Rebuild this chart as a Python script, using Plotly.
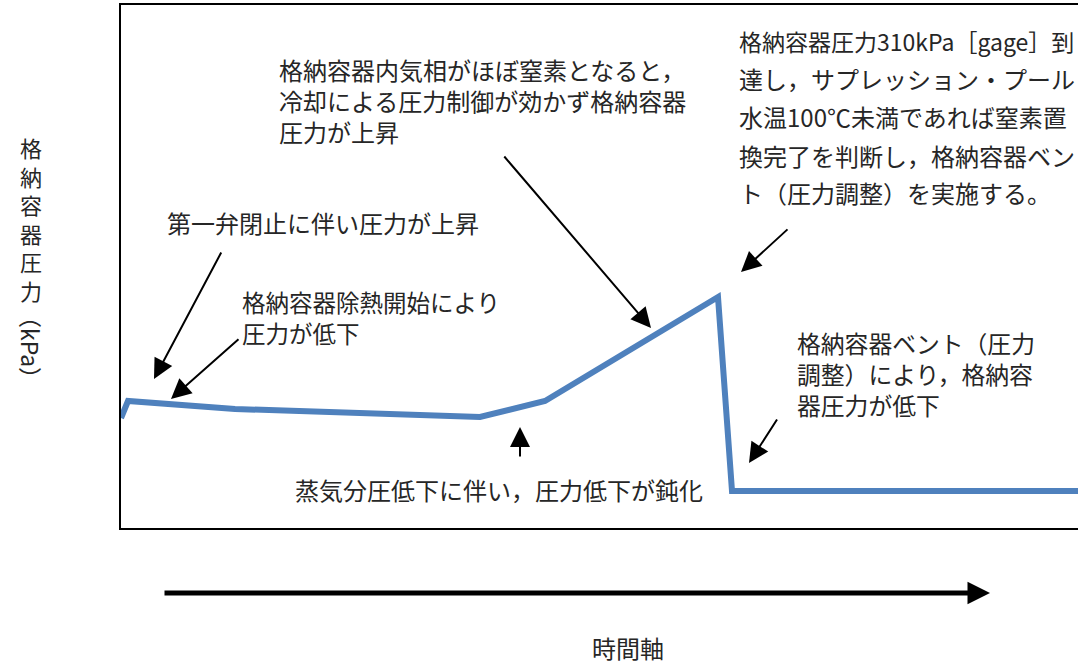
import plotly.graph_objects as go

# Conceptual pressure history (arbitrary units, no ticks in the original)
time = [0, 7, 114, 359, 424, 597, 611, 957]
pressure = [110, 127, 119, 111, 127, 231, 37, 37]

y_label_chars = ["格", "納", "容", "器", "圧", "力"]
y_label_unit = "（kPa）"
x_label = "時間軸"

# (lines, left x, first-line centre y, line step, font size) in screen pixels
notes = [
    (["第一弁閉止に伴い圧力が上昇"], 165, 222, 0, 24),
    (["格納容器除熱開始により", "圧力が低下"], 240, 302, 30, 23.5),
    (["格納容器内気相がほぼ窒素となると，", "冷却による圧力制御が効かず格納容器", "圧力が上昇"], 277, 68, 32, 24),
    (["格納容器圧力310kPa［gage］到"], 737, 41, 0, 23),
    (["達し，サプレッション・プール"], 737, 79, 0, 24),
    (["水温100℃未満であれば窒素置"], 737, 117, 0, 24),
    (["換完了を判断し，格納容器ベン"], 737, 155, 0, 24),
    (["ト（圧力調整）を実施する。"], 737, 192, 0, 24),
    (["格納容器ベント（圧力", "調整）により，格納容", "器圧力が低下"], 795, 342, 31, 23.8),
    (["蒸気分圧低下に伴い，圧力低下が鈍化"], 293, 489, 0, 24),
]

# arrows: (tail_x, tail_y, head_x, head_y) in screen pixels
arrows = [
    (222, 251, 154, 379),
    (240, 338, 171, 399),
    (503, 155, 651, 328),
    (789, 228, 741, 272),
    (778, 418, 749, 463),
    (520, 458, 520, 427),
]

L, T, B, W, H = 121, 5, 528, 1078, 665
PW = W - L
PH = B - T


def px(x):
    return (x - L) / PW


def py(y):
    return (B - y) / PH


FONT = "Noto Sans CJK JP"
TXT = "#262626"

fig = go.Figure(go.Scatter(x=time, y=pressure, mode="lines",
                           line=dict(color="#4f81bd", width=6),
                           hoverinfo="skip", showlegend=False))

ann = []
for lines, x0, y0, dy, fs in notes:
    yc = y0 + dy * (len(lines) - 1) / 2
    ann.append(dict(text="<br>".join(lines), xref="paper", yref="paper", x=px(x0), y=py(yc),
                    xanchor="left", yanchor="middle", align="left", showarrow=False,
                    font=dict(family=FONT, size=fs, color=TXT)))

for tx, ty, hx, hy in arrows:
    ann.append(dict(text="", xref="paper", yref="paper", x=px(hx), y=py(hy),
                    ax=tx - hx, ay=ty - hy, showarrow=True, arrowhead=2,
                    arrowsize=2, arrowwidth=2, arrowcolor="black", standoff=0))

ann.append(dict(text="<br>".join(y_label_chars), xref="paper", yref="paper", x=px(31),
                y=py(218), xanchor="center", yanchor="middle", showarrow=False,
                font=dict(family=FONT, size=22, color=TXT)))
ann.append(dict(text=y_label_unit, xref="paper", yref="paper", x=px(31), y=py(347),
                xanchor="center", yanchor="middle", showarrow=False, textangle=90,
                font=dict(family=FONT, size=23, color=TXT)))

# time axis arrow
ann.append(dict(text="", xref="paper", yref="paper", x=px(990), y=py(593),
                ax=163 - 990, ay=0, showarrow=True, arrowhead=2, arrowsize=0.9,
                arrowwidth=5, arrowcolor="black", standoff=0))
ann.append(dict(text=x_label, xref="paper", yref="paper", x=px(628), y=py(647),
                xanchor="center", yanchor="middle", showarrow=False,
                font=dict(family=FONT, size=24, color=TXT)))

fig.update_layout(
    width=W, height=H,
    margin=dict(l=L, r=0, t=T, b=H - B),
    paper_bgcolor="white", plot_bgcolor="white",
    xaxis=dict(range=[0, PW], showgrid=False, zeroline=False, showticklabels=False,
               ticks="", showline=True, linecolor="black", linewidth=2, mirror=True),
    yaxis=dict(range=[0, PH], showgrid=False, zeroline=False, showticklabels=False,
               ticks="", showline=True, linecolor="black", linewidth=2),
    annotations=ann,
    showlegend=False,
)

fig.write_html("out.html", config={"displayModeBar": False},
               post_script="document.body.style.margin='0';")
